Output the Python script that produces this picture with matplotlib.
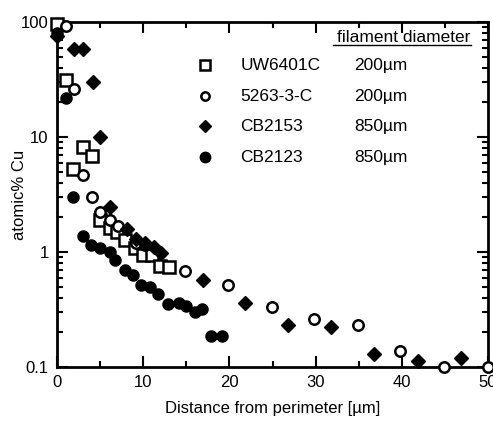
import matplotlib
matplotlib.use("Agg")
import matplotlib.pyplot as plt
from matplotlib.ticker import LogLocator, NullFormatter, FixedLocator

plt.rcParams['font.family'] = ['Liberation Sans', 'DejaVu Sans']

# UW6401C (open squares)
uw_x = [0, 1.1, 1.9, 3.0, 4.1, 5.0, 6.1, 7.0, 7.9, 9.0, 10.0, 11.0, 11.9, 13.0]
uw_y = [97, 31, 5.3, 8.2, 6.8, 1.9, 1.61, 1.5, 1.27, 1.09, 0.94, 0.94, 0.75, 0.74]

# 5263-3-C (open circles)
oc_x = [1.1, 2.0, 3.0, 4.1, 5.0, 6.1, 7.1, 9.2, 10.2, 14.9, 19.8, 24.9, 29.8,
        34.9, 39.8, 44.9, 50.0]
oc_y = [92, 26, 4.7, 3.0, 2.24, 1.9, 1.7, 1.2, 1.15, 0.69, 0.52, 0.33, 0.26,
        0.23, 0.139, 0.1, 0.1]

# CB2153 (filled diamonds)
cb53_x = [0, 2.0, 3.0, 4.2, 5.0, 6.1, 8.1, 9.2, 10.2, 11.2, 12.1, 16.9, 21.8,
          26.8, 31.8, 36.8, 41.9, 46.9]
cb53_y = [75, 58, 58, 30, 10, 2.45, 1.57, 1.3, 1.2, 1.11, 0.98, 0.57, 0.36,
          0.23, 0.224, 0.13, 0.113, 0.12]

# CB2123 (filled circles)
cb23_x = [0, 1.0, 1.9, 3.0, 4.0, 5.0, 6.1, 6.7, 7.9, 8.8, 9.8, 10.8, 11.7,
          12.9, 14.1, 15.0, 16.0, 16.8, 17.9, 19.1]
cb23_y = [80, 22, 3.0, 1.38, 1.15, 1.08, 1.0, 0.86, 0.70, 0.63, 0.52, 0.50,
          0.43, 0.35, 0.36, 0.34, 0.30, 0.32, 0.186, 0.186]

names = ["UW6401C", "5263-3-C", "CB2153", "CB2123"]
diameters = ["200\u00b5m", "200\u00b5m", "850\u00b5m", "850\u00b5m"]

fig = plt.figure(figsize=(4.93, 4.28), dpi=100)
ax = fig.add_axes([0.1156, 0.1425, 0.8744, 0.8061])

ax.plot(uw_x, uw_y, 's', ms=8, mfc='white', mec='black', mew=1.8, clip_on=False, zorder=3)
ax.plot(oc_x, oc_y, 'o', ms=7.5, mfc='white', mec='black', mew=1.8, clip_on=False, zorder=3)
ax.plot(cb53_x, cb53_y, 'D', ms=7, mfc='black', mec='black', clip_on=False, zorder=3)
ax.plot(cb23_x, cb23_y, 'o', ms=8, mfc='black', mec='black', clip_on=False, zorder=3)

ax.set_yscale('log')
ax.set_xlim(0, 50)
ax.set_ylim(0.1, 100)
ax.set_xticks([0, 10, 20, 30, 40, 50])
ax.xaxis.set_minor_locator(FixedLocator([5, 15, 25, 35, 45]))
ax.set_yticks([0.1, 1, 10, 100])
ax.set_yticklabels(["0.1", "1", "10", "100"])
ax.yaxis.set_minor_locator(LogLocator(base=10, subs=range(2, 10)))
ax.yaxis.set_minor_formatter(NullFormatter())

ax.tick_params(which='both', direction='in', top=True, right=True, width=1.5,
               labelsize=12, pad=6)
ax.tick_params(which='major', length=8)
ax.tick_params(which='minor', length=4)
for s in ax.spines.values():
    s.set_linewidth(2)

ax.set_xlabel("Distance from perimeter [\u00b5m]", fontsize=12, labelpad=8)
ax.set_ylabel("atomic% Cu", fontsize=12)
ax.yaxis.set_label_coords(-0.07, 0.5)

# hand-made legend
ax.text(0.96, 0.955, "filament diameter", transform=ax.transAxes, fontsize=12.5,
        ha='right', va='center')
ax.plot([0.64, 0.96], [0.932, 0.932], transform=ax.transAxes, color='black', lw=1)
rows_y = [0.875, 0.785, 0.698, 0.608]
styles = [dict(marker='s', ms=6.5, mfc='white', mec='black', mew=1.8),
          dict(marker='o', ms=6, mfc='white', mec='black', mew=1.8),
          dict(marker='D', ms=6.5, mfc='black', mec='black'),
          dict(marker='o', ms=7.5, mfc='black', mec='black')]
for ry, nm, dm, st in zip(rows_y, names, diameters, styles):
    ax.plot([0.343], [ry], transform=ax.transAxes, ls='none', **st)
    ax.text(0.425, ry, nm, transform=ax.transAxes, fontsize=12.5, va='center')
    ax.text(0.69, ry, dm, transform=ax.transAxes, fontsize=12.5, va='center')

fig.savefig("out.png", dpi=100)
